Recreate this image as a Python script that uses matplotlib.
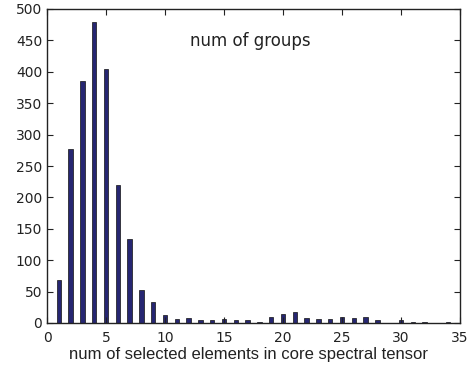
import matplotlib

matplotlib.use("Agg")
import matplotlib.pyplot as plt

# histogram counts, one per number of selected elements
n_elements = list(range(1, 35))
counts = [68, 277, 385, 480, 404, 220, 133, 52, 34, 13,
          7, 8, 4, 4, 7, 5, 4, 2, 9, 14,
          17, 8, 6, 7, 10, 8, 9, 5, 0, 4,
          2, 1, 0, 1]

x_ticks = list(range(0, 36, 5))
y_ticks = list(range(0, 501, 50))

fig = plt.figure(figsize=(4.73, 3.66), dpi=100)
ax = fig.add_axes([47 / 473, 1 - 323 / 366, 413 / 473, 314 / 366])

ax.bar(n_elements, counts, width=0.37, color="#262672",
       edgecolor="#111111", linewidth=0.5)

ax.set_xlim(0, 35)
ax.set_ylim(0, 500)
ax.set_xticks(x_ticks)
ax.set_yticks(y_ticks)
ax.tick_params(direction="in", length=4, width=0.8, top=True, right=True,
               labelsize=10, colors="#222222", labelcolor="#222222")
ax.tick_params(axis="x", pad=6)
for s in ax.spines.values():
    s.set_linewidth(1.0)
    s.set_color("#222222")

ax.set_xlabel("num of selected elements in core spectral tensor",
              fontsize=12, family="Liberation Sans", color="#222222")
ax.xaxis.set_label_coords(0.487, -0.075, transform=ax.transAxes)
ax.text(17.2, 449, "num of groups", fontsize=12, color="#222222",
        ha="center", va="center")

fig.savefig("out.png", dpi=100)
